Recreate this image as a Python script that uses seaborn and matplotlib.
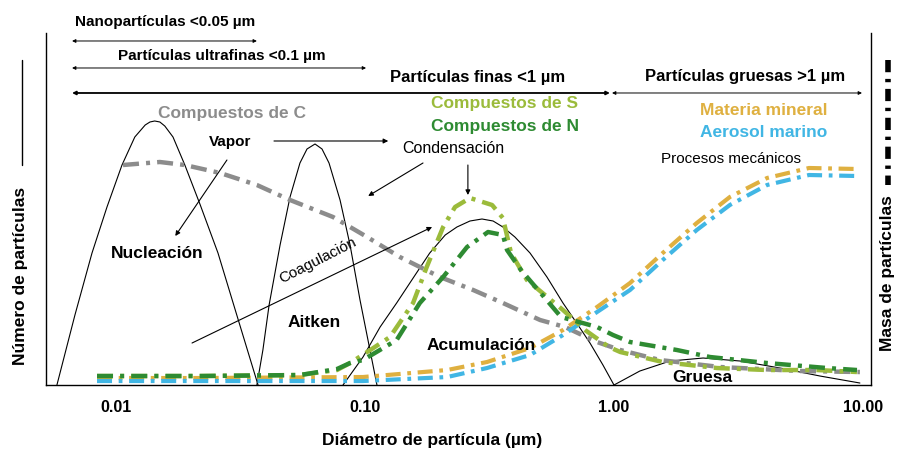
import pandas as pd
import seaborn as sns
import matplotlib.pyplot as plt
from matplotlib.lines import Line2D
from matplotlib.ticker import NullLocator

# Particle diameter (µm) and relative height (arbitrary units, 0-352)
nuc_x = [0.00579, 0.00684, 0.00801, 0.0092, 0.01057, 0.0119, 0.0131, 0.01369, 0.0143,
         0.0150, 0.0157, 0.01694, 0.0189, 0.0218, 0.02568, 0.0309, 0.0372]
nuc_y = [0, 70, 132, 178, 220, 248, 260, 263, 264, 263, 259, 248, 220, 180, 132, 66, 0]

ait_x = [0.0368, 0.0389, 0.0412, 0.0456, 0.0500, 0.0548, 0.0585, 0.0630, 0.0672,
         0.0717, 0.0794, 0.0871, 0.0955, 0.1028, 0.1117]
ait_y = [0, 35, 80, 140, 188, 222, 236, 241, 236, 222, 185, 140, 85, 45, 0]

acu_x = [0.0816, 0.0982, 0.115, 0.134, 0.159, 0.182, 0.210, 0.234, 0.264, 0.295,
         0.327, 0.358, 0.400, 0.460, 0.538, 0.624, 0.717, 0.801, 0.903, 1.0]
acu_y = [0, 28, 58, 82, 110, 132, 150, 158, 164, 166, 164, 158, 148, 132, 108, 82,
         60, 42, 20, 0]

grue_x = [1.0, 1.27, 1.68, 2.28, 3.21, 4.64, 6.72, 9.72]
grue_y = [0, 14, 24, 27, 24, 17, 9, 2]

c_x = [0.01067, 0.0150, 0.0189, 0.0262, 0.0368, 0.0500, 0.0744, 0.102, 0.138, 0.200,
       0.272, 0.358, 0.505, 0.636, 0.855, 1.06, 1.53, 2.67, 5.58, 9.72]
c_y = [220, 223, 220, 212, 200, 185, 168, 148, 128, 108, 95, 82, 65, 58, 43, 35, 25,
       18, 14, 13]

s_x = [0.00839, 0.0218, 0.0548, 0.0772, 0.0871, 0.105, 0.126, 0.156, 0.177, 0.206,
       0.230, 0.264, 0.324, 0.358, 0.386, 0.447, 0.624, 0.765, 0.955, 1.06, 1.57,
       2.59, 4.12, 6.54, 9.46]
s_y = [9, 9, 10, 15, 22, 35, 48, 82, 118, 158, 178, 187, 180, 167, 132, 105, 75, 55,
       38, 33, 23, 17, 15, 15, 13]

n_x = [0.00839, 0.0218, 0.0548, 0.0772, 0.0871, 0.0982, 0.134, 0.166, 0.206, 0.257,
       0.312, 0.358, 0.372, 0.423, 0.524, 0.613, 0.855, 0.991, 1.16, 1.79, 2.43,
       4.12, 7.17, 9.46]
n_y = [9, 9, 10, 16, 22, 25, 45, 82, 108, 138, 153, 150, 135, 115, 88, 68, 58, 50,
       43, 35, 28, 22, 17, 15]

min_x = [0.00839, 0.0218, 0.0982, 0.214, 0.309, 0.460, 0.624, 0.855, 1.16, 1.57,
         2.15, 2.92, 4.12, 6.07, 9.46]
min_y = [7, 7, 8, 15, 23, 37, 55, 78, 102, 132, 162, 188, 207, 217, 216]
mar_y = [4, 4, 4, 8, 17, 30, 50, 73, 95, 125, 155, 180, 200, 210, 209]

GRAY = '#8c8c8c'
LGREEN = '#9bbb3b'
DGREEN = '#2e8b32'
GOLD = '#dfb040'
BLUE = '#41b6e4'

sns.set_style('white')
plt.rcParams['font.family'] = ['Liberation Sans', 'DejaVu Sans']
plt.rcParams['text.color'] = 'black'
plt.rcParams['xtick.color'] = 'black'

fig = plt.figure(figsize=(8.97, 4.5), dpi=100)
ax = fig.add_axes([0.0513, 0.1444, 0.9197, 0.7823])
ax.set_xscale('log')

dashdot = (0, (3.6, 1.6, 0.9, 1.6))
curves = [
    (nuc_x, nuc_y, 'black', 0.8, '-'),
    (ait_x, ait_y, 'black', 0.8, '-'),
    (acu_x, acu_y, 'black', 0.8, '-'),
    (grue_x, grue_y, 'black', 0.8, '-'),
    (c_x, c_y, GRAY, 3.2, dashdot),
    (min_x, min_y, GOLD, 3.0, dashdot),
    (min_x, mar_y, BLUE, 3.0, dashdot),
    (s_x, s_y, LGREEN, 3.2, dashdot),
    (n_x, n_y, DGREEN, 3.2, dashdot),
]
for xs, ys, col, lw, ls in curves:
    df = pd.DataFrame({'d': xs, 'v': ys})
    sns.lineplot(data=df, x='d', y='v', ax=ax, color=col, lw=lw, linestyle=ls,
                 estimator=None, sort=False)

ax.set_xlim(0.005235, 10.77)
ax.set_ylim(0, 352)
ax.set_xticks([0.01, 0.1, 1, 10])
ax.set_xticklabels(['0.01', '0.10', '1.00', '10.00'])
ax.xaxis.set_minor_locator(NullLocator())
ax.set_yticks([])
ax.tick_params(axis='x', direction='inout', length=10, width=1, pad=6, labelsize=11.5,
               colors='black')
for lbl in ax.get_xticklabels():
    lbl.set_fontweight('bold')
ax.set_xlabel('')
ax.set_ylabel('')
ax.spines['top'].set_visible(False)
for sp in ['left', 'right', 'bottom']:
    ax.spines[sp].set_color('black')
    ax.spines[sp].set_linewidth(1.0)

# size range arrows
def span(x0, x1, y, lw=0.7):
    ax.annotate('', xy=(x1, y), xytext=(x0, y), annotation_clip=False,
                arrowprops=dict(arrowstyle='<|-|>', lw=lw, color='black',
                                mutation_scale=5, shrinkA=0, shrinkB=0))

span(0.00666, 0.0368, 344)
span(0.00666, 0.101, 317)
span(0.00666, 0.963, 292, lw=1.3)
span(0.982, 9.91, 292)

bold = dict(fontweight='bold', clip_on=False)
ax.text(0.00684, 363, 'Nanopartículas <0.05 µm', fontsize=11, ha='left', va='center', **bold)
ax.text(0.0267, 329, 'Partículas ultrafinas <0.1 µm', fontsize=11, ha='center', va='center', **bold)
ax.text(0.284, 307, 'Partículas finas <1 µm', fontsize=12, ha='center', va='center', **bold)
ax.text(3.36, 308, 'Partículas gruesas >1 µm', fontsize=12, ha='center', va='center', **bold)

ax.text(0.0292, 271, 'Compuestos de C', fontsize=12.5, color=GRAY, ha='center', va='center', **bold)
ax.text(0.365, 281, 'Compuestos de S', fontsize=12.5, color=LGREEN, ha='center', va='center', **bold)
ax.text(0.365, 258, 'Compuestos de N', fontsize=12.5, color=DGREEN, ha='center', va='center', **bold)
ax.text(4.0, 274, 'Materia mineral', fontsize=12.5, color=GOLD, ha='center', va='center', **bold)
ax.text(4.0, 252, 'Aerosol marino', fontsize=12.5, color=BLUE, ha='center', va='center', **bold)
ax.text(2.95, 226, 'Procesos mecánicos', fontsize=11, ha='center', va='center')

ax.text(0.0287, 243, 'Vapor', fontsize=11, ha='center', va='center', **bold)
ax.text(0.226, 236, 'Condensación', fontsize=11.5, ha='center', va='center')
ax.text(0.0147, 132, 'Nucleación', fontsize=12.5, ha='center', va='center', **bold)
ax.text(0.0624, 63, 'Aitken', fontsize=12.5, ha='center', va='center', **bold)
ax.text(0.292, 40, 'Acumulación', fontsize=12.5, ha='center', va='center', **bold)
ax.text(2.26, 8, 'Gruesa', fontsize=12.5, ha='center', va='center', **bold)
ax.text(0.0647, 124, 'Coagulación', fontsize=11, ha='center', va='center', rotation=27)

# process arrows
def arrow(x0, y0, x1, y1):
    ax.annotate('', xy=(x1, y1), xytext=(x0, y0),
                arrowprops=dict(arrowstyle='-|>', lw=0.8, color='black',
                                mutation_scale=7, shrinkA=0, shrinkB=0))

arrow(0.0431, 244, 0.124, 244)
arrow(0.0279, 225, 0.0173, 149)
arrow(0.171, 222, 0.103, 189)
arrow(0.259, 220, 0.259, 190)
arrow(0.0202, 42, 0.186, 158)

# axis titles
fig.text(432 / 897, 1 - 440 / 450, 'Diámetro de partícula (µm)', fontsize=12.5,
         fontweight='bold', ha='center', va='center')
fig.text(20 / 897, 1 - 276 / 450, 'Número de partículas', fontsize=12.5,
         fontweight='bold', rotation=90, ha='center', va='center')
fig.add_artist(Line2D([22 / 897, 22 / 897], [1 - 60 / 450, 1 - 165 / 450],
                      color='black', lw=1.0))
fig.text(887 / 897, 1 - 273 / 450, 'Masa de partículas', fontsize=12.5,
         fontweight='bold', rotation=90, ha='center', va='center')
fig.add_artist(Line2D([888 / 897, 888 / 897], [1 - 60 / 450, 1 - 185 / 450],
                      color='black', lw=4, linestyle=(0, (2.2, 1.2, 0.6, 1.2))))

fig.savefig('out.png', dpi=100)
